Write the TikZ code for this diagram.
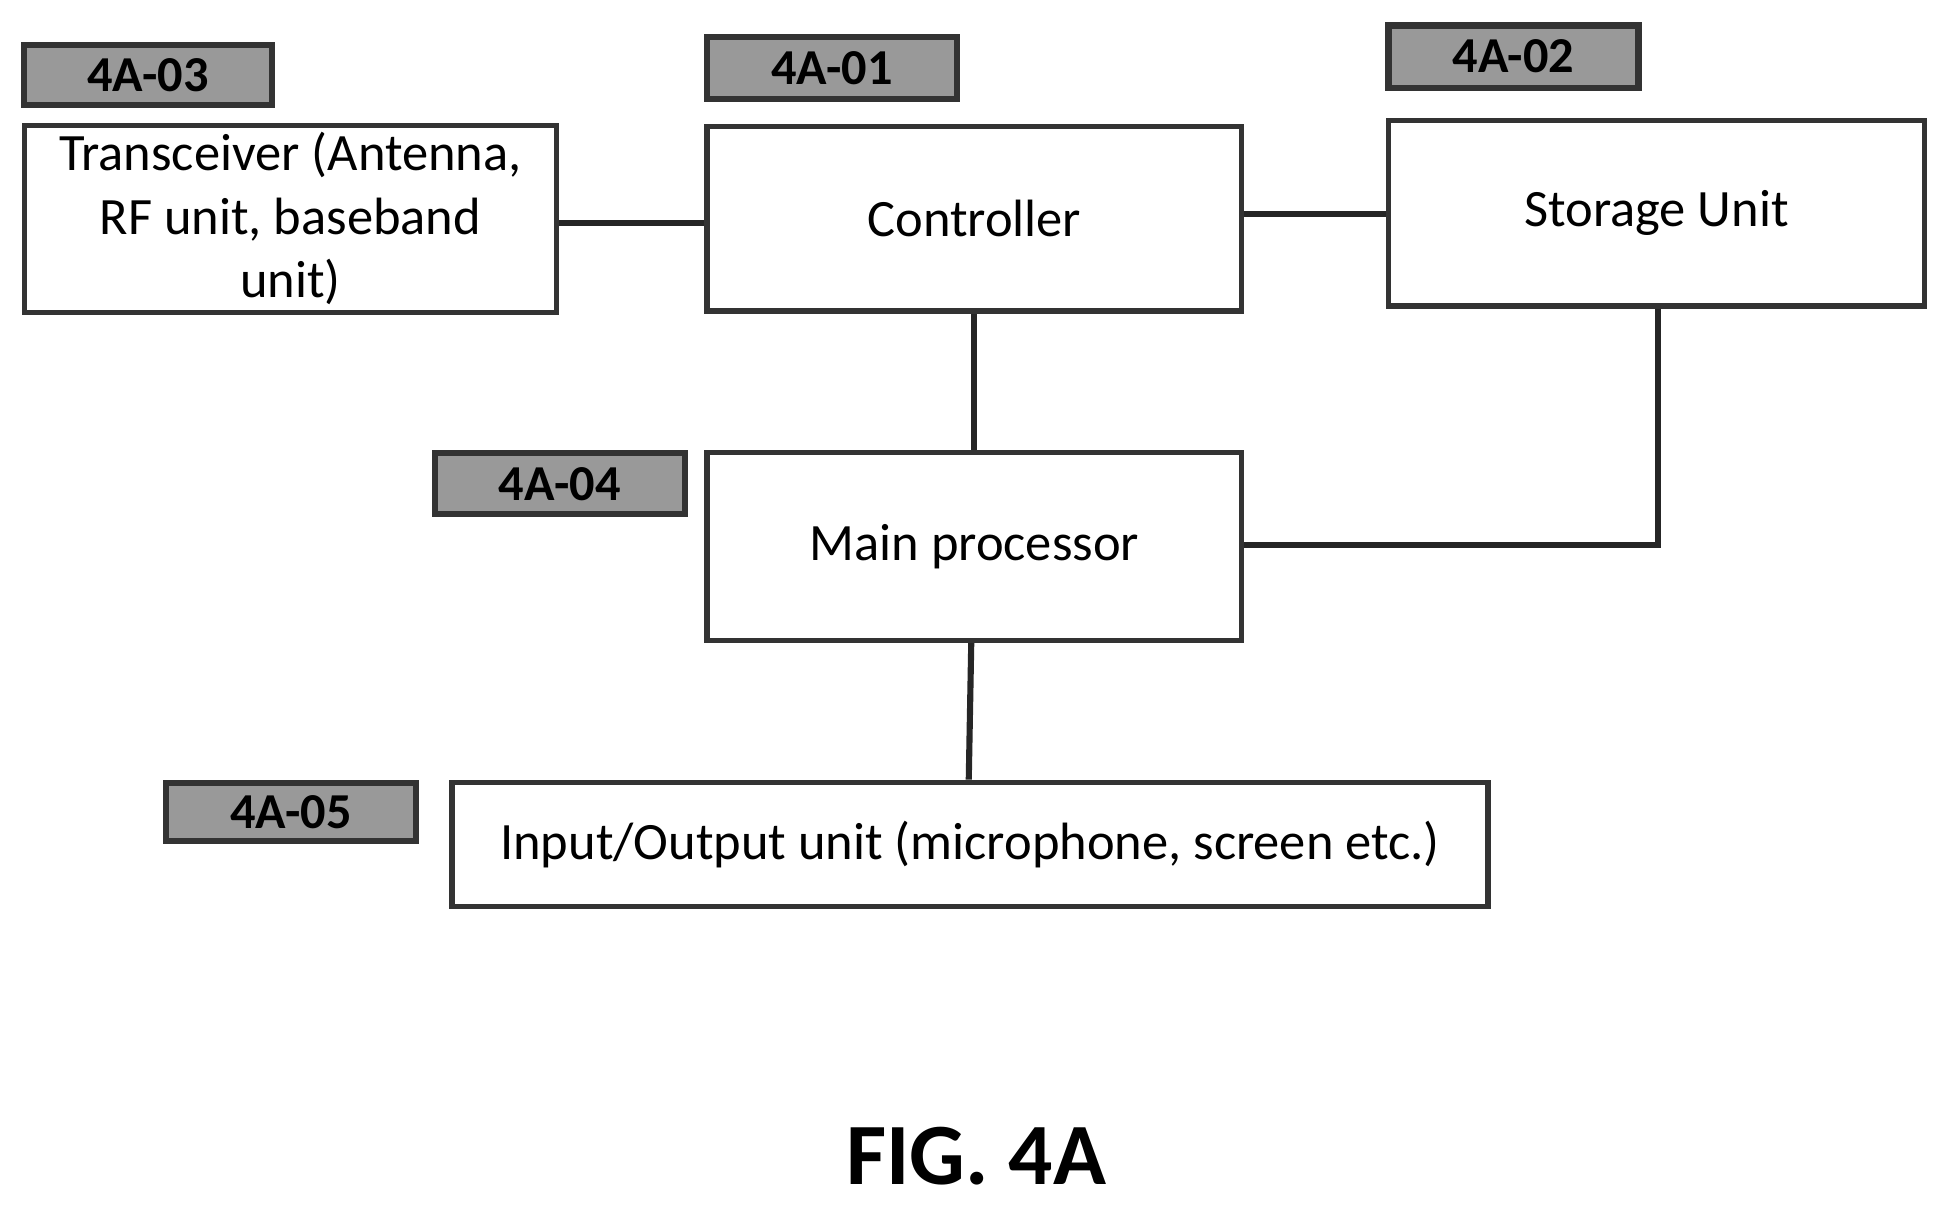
\documentclass[tikz,border=0pt]{standalone}
\usepackage{fontspec}
\setmainfont{Carlito}
\begin{document}
\begin{tikzpicture}[x=0.01cm,y=-0.01cm,
 box/.style={draw=black!80,line width=1.2pt,rectangle,inner sep=0pt,align=center,font=\fontsize{12}{14.5}\selectfont},
 tag/.style={draw=black!80,line width=1.4pt,fill=black!40,rectangle,inner sep=0pt,font=\bfseries\fontsize{11.5}{14}\selectfont},
 wire/.style={line width=1.4pt,draw=black!85}]
\useasboundingbox (0,0) rectangle (1560,970);
\node[box,minimum width=428*0.01cm,minimum height=150*0.01cm] (tr) at (233.5,176) {Transceiver (Antenna,\\RF unit, baseband\\unit)};
\node[box,minimum width=430*0.01cm,minimum height=148*0.01cm] (ct) at (783.5,176) {Controller};
\node[box,minimum width=431*0.01cm,minimum height=149*0.01cm] (st) at (1332,171.5) {Storage Unit};
\node[box,minimum width=430*0.01cm,minimum height=151*0.01cm] (mp) at (783.5,439.5) {Main processor};
\node[box,minimum width=833*0.01cm,minimum height=100*0.01cm] (io) at (780,679) {Input/Output unit (microphone, screen etc.)};
\node[tag,minimum width=199*0.01cm,minimum height=48*0.01cm] (t3) at (119,60.5) {4A-03};
\node[tag,minimum width=201*0.01cm,minimum height=50*0.01cm] (t1) at (669,54.5) {4A-01};
\node[tag,minimum width=201*0.01cm,minimum height=50*0.01cm] (t2) at (1217,45.5) {4A-02};
\node[tag,minimum width=201*0.01cm,minimum height=49*0.01cm] (t4) at (450,389) {4A-04};
\node[tag,minimum width=201*0.01cm,minimum height=47*0.01cm] (t5) at (234,653) {4A-05};
\draw[wire] (tr.east|-0,179) -- (ct.west|-0,179);
\draw[wire] (ct.east|-0,172) -- (st.west|-0,172);
\draw[wire] (ct.south) -- (mp.north);
\draw[wire] (st.south-|1333,0) |- (mp.east|-0,438);
\draw[wire] (mp.south-|781,0) -- (io.north-|779,0);
\node[font=\bfseries\fontsize{20}{24}\selectfont] (fig) at (785,930) {FIG. 4A};
\end{tikzpicture}
\end{document}
